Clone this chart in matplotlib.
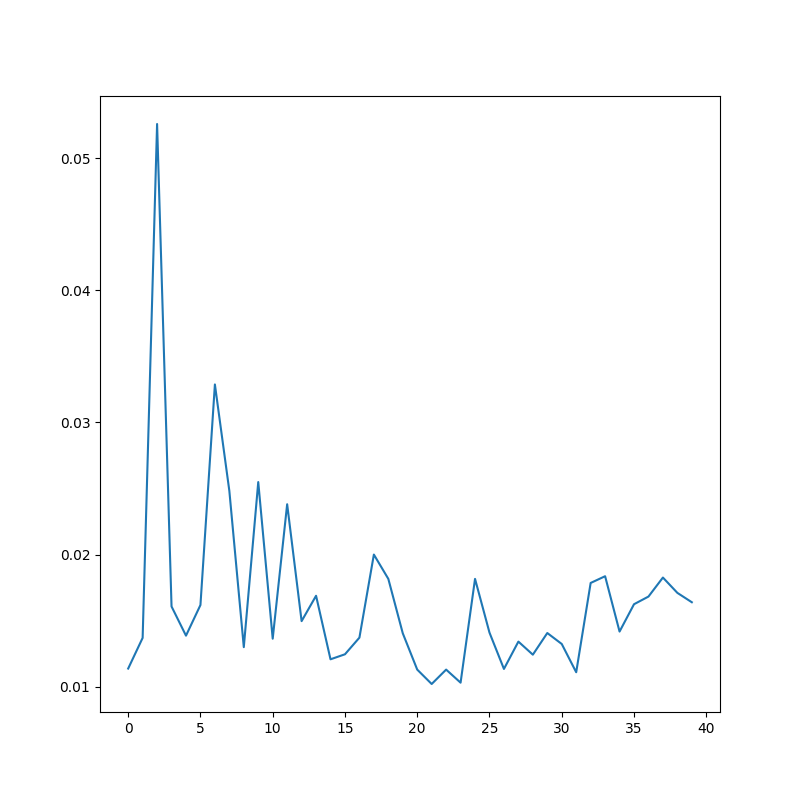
import matplotlib
matplotlib.use("Agg")
import matplotlib.pyplot as plt

# values, one per step 0..39
values = [
    0.01137, 0.01369, 0.05260, 0.01607, 0.01386, 0.01618, 0.03288, 0.02482,
    0.01299, 0.02549, 0.01363, 0.02381, 0.01496, 0.01688, 0.01207, 0.01245,
    0.01371, 0.02000, 0.01816, 0.01404, 0.01129, 0.01020, 0.01129, 0.01030,
    0.01816, 0.01409, 0.01134, 0.01341, 0.01242, 0.01406, 0.01323, 0.01109,
    0.01785, 0.01836, 0.01417, 0.01624, 0.01682, 0.01826, 0.01710, 0.01639,
]

fig, ax = plt.subplots(figsize=(8, 8), dpi=100)
ax.plot(values)
fig.savefig("out.png", dpi=100)
